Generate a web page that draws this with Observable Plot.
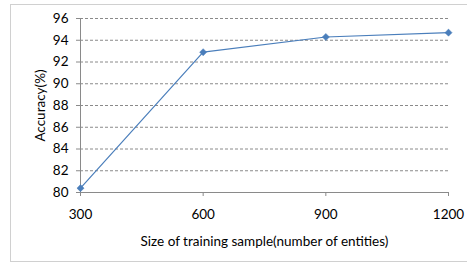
<!DOCTYPE html>
<html>
<head>
<meta charset="utf-8">
<script src="https://cdn.jsdelivr.net/npm/d3@7"></script>
<script src="https://cdn.jsdelivr.net/npm/@observablehq/plot@0.6"></script>
<style>
  html, body { margin: 0; padding: 0; background: #fff; overflow: hidden; }
  #wrap { position: relative; width: 467px; height: 265px; overflow: hidden; }
  #border { position: absolute; left: 10px; top: 4px; width: 470px; height: 258px; border: 1px solid #d0d0d0; box-sizing: border-box; }
  #chart { position: absolute; left: 0; top: 0; }
</style>
</head>
<body>
<div id="wrap"><div id="border"></div><div id="chart"></div></div>
<script>
const sampleSizes = [300, 600, 900, 1200];
const accuracy = [80.4, 92.9, 94.3, 94.7];
const yTicks = [80, 82, 84, 86, 88, 90, 92, 94, 96];
const gridTicks = [82, 84, 86, 88, 90, 92, 94, 96];
const xLabel = "Size of training sample(number of entities)";
const yLabel = "Accuracy(%)";

const data = sampleSizes.map((s, i) => ({size: s, acc: accuracy[i]}));

const chart = Plot.plot({
  width: 467,
  height: 265,
  marginLeft: 80,
  marginRight: 19,
  marginTop: 18,
  marginBottom: 73,
  style: {fontFamily: "Lato, sans-serif", fontSize: "13px", color: "#000", background: "transparent"},
  x: {domain: [300, 1200]},
  y: {domain: [80, 96]},
  marks: [
    Plot.gridY(gridTicks, {stroke: "#8a8a8a", strokeOpacity: 1, strokeDasharray: "3,2"}),
    Plot.ruleX([300], {y1: 80, y2: 96, stroke: "#8a8a8a"}),
    Plot.ruleY([80], {stroke: "#8a8a8a"}),
    Plot.axisY(yTicks, {tickSize: 4, tickPadding: 8, stroke: "#8a8a8a", label: yLabel, labelAnchor: "center", labelArrow: "none", labelOffset: 45, fontSize: 13.5}),
    Plot.axisX(sampleSizes, {tickSize: 4, tickPadding: 13, stroke: "#8a8a8a", tickFormat: d => String(d), label: xLabel, labelAnchor: "center", labelArrow: "none", labelOffset: 53, fontSize: 13.5}),
    Plot.line(data, {x: "size", y: "acc", stroke: "#4a7ebb", strokeWidth: 1.2}),
    Plot.dot(data, {x: "size", y: "acc", symbol: "diamond2", r: 3.2, fill: "#4a7ebb", stroke: "#4a7ebb", strokeWidth: 0.5})
  ]
});
document.getElementById("chart").appendChild(chart);
</script>
</body>
</html>
